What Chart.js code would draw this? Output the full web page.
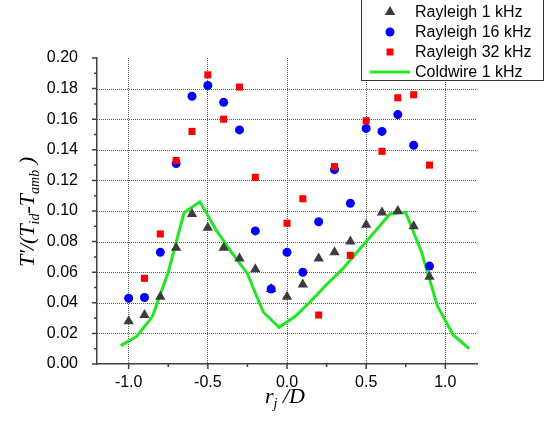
<!DOCTYPE html>
<html>
<head>
<meta charset="utf-8">
<script src="https://cdn.jsdelivr.net/npm/chart.js@4/dist/chart.umd.min.js"></script>
<style>
  html, body { margin: 0; padding: 0; background: #fff; }
  #wrap { width: 544px; height: 427px; }
</style>
</head>
<body>
<div id="wrap"><canvas id="chart" width="544" height="427"></canvas></div>
<script>
// radial positions r_j/D of the Rayleigh measurements
const xPos = [-1.0, -0.9, -0.8, -0.7, -0.6, -0.5, -0.4, -0.3, -0.2, -0.1,
              0.0, 0.1, 0.2, 0.3, 0.4, 0.5, 0.6, 0.7, 0.8, 0.9];
const ray1 = [0.028, 0.032, 0.044, 0.076, 0.098, 0.089, 0.076, 0.069, 0.062, 0.049,
              0.044, 0.052, 0.069, 0.073, 0.080, 0.091, 0.099, 0.100, 0.090, 0.057];
const ray16 = [0.043, 0.0435, 0.073, 0.131, 0.175, 0.182, 0.171, 0.153, 0.087, 0.049,
               0.073, 0.060, 0.093, 0.127, 0.105, 0.154, 0.152, 0.163, 0.143, 0.064];
const ray32 = [null, 0.056, 0.085, 0.133, 0.152, 0.189, 0.160, 0.181, 0.122, null,
               0.092, 0.108, 0.032, 0.129, 0.071, 0.159, 0.139, 0.174, 0.176, 0.130];

// coldwire profile
const cwX = [-1.05, -0.95, -0.85, -0.75, -0.65, -0.55, -0.45, -0.35, -0.25, -0.15, -0.05,
             0.05, 0.15, 0.25, 0.35, 0.45, 0.55, 0.65, 0.75, 0.85, 0.95, 1.05, 1.15];
const cwY = [0.012, 0.018, 0.031, 0.060, 0.099, 0.106, 0.088, 0.073, 0.059, 0.034, 0.024,
             0.031, 0.041, 0.052, 0.062, 0.074, 0.086, 0.098, 0.099, 0.073, 0.038, 0.019, 0.010];

const xMajor = [-1.0, -0.5, 0.0, 0.5, 1.0];
const xMinor = [-0.75, -0.25, 0.25, 0.75];
const yMajor = [0.00, 0.02, 0.04, 0.06, 0.08, 0.10, 0.12, 0.14, 0.16, 0.18, 0.20];
const yMinor = [0.01, 0.03, 0.05, 0.07, 0.09, 0.11, 0.13, 0.15, 0.17, 0.19];

const legendLabels = ['Rayleigh 1 kHz', 'Rayleigh 16 kHz', 'Rayleigh 32 kHz', 'Coldwire 1 kHz'];

const C_TRI = '#3c3c3c';
const C_CIRC = '#0000ff';
const C_SQ = '#ff0000';
const C_LINE = '#22e622';
const AXIS = '#404040';
const GRID = '#5a5a5a';

const pts = (xs, ys) => xs.map((x, i) => ({ x, y: ys[i] })).filter(p => p.y !== null);

// --- marker helpers (legend) ---
function drawMarker(ctx, kind, x, y) {
    ctx.beginPath();
    if (kind === 'tri') {
        const r = 6;
        ctx.moveTo(x, y - r);
        ctx.lineTo(x + r * 0.866, y + r * 0.5);
        ctx.lineTo(x - r * 0.866, y + r * 0.5);
        ctx.closePath();
        ctx.fillStyle = C_TRI;
        ctx.fill();
    } else if (kind === 'circ') {
        ctx.arc(x, y, 4.5, 0, Math.PI * 2);
        ctx.fillStyle = C_CIRC;
        ctx.fill();
    } else if (kind === 'sq') {
        ctx.fillStyle = C_SQ;
        ctx.fillRect(x - 3.5, y - 3.5, 7, 7);
    } else {
        ctx.strokeStyle = C_LINE;
        ctx.lineWidth = 3;
        ctx.moveTo(x - 20, y);
        ctx.lineTo(x + 20, y);
        ctx.stroke();
    }
}

function drawRich(ctx, parts, x, y) {
    // parts: [text, font, dy]
    let w = 0;
    parts.forEach(p => { ctx.font = p[1]; w += ctx.measureText(p[0]).width; });
    let cx = x - w / 2;
    parts.forEach(p => {
        ctx.font = p[1];
        ctx.fillText(p[0], cx, y + p[2]);
        cx += ctx.measureText(p[0]).width;
    });
}

const extras = {
    id: 'extras',
    beforeDatasetsDraw(chart) {
        // dotted horizontal grid at the major y ticks (between the bounds)
        const ctx = chart.ctx;
        const ys = chart.scales.y;
        const area = chart.chartArea;
        ctx.save();
        ctx.strokeStyle = GRID;
        ctx.lineWidth = 1;
        ctx.setLineDash([1, 1]);
        yMajor.slice(1, -1).forEach(v => {
            const p = Math.round(ys.getPixelForValue(v)) + 0.5;
            ctx.beginPath();
            ctx.moveTo(area.left, p);
            ctx.lineTo(area.right, p);
            ctx.stroke();
        });
        ctx.restore();
    },
    afterDraw(chart) {
        const ctx = chart.ctx;
        const xs = chart.scales.x, ys = chart.scales.y;
        const area = chart.chartArea;
        ctx.save();
        // tick marks (outward)
        ctx.strokeStyle = AXIS;
        ctx.lineWidth = 1.5;
        ctx.beginPath();
        xMajor.forEach(v => { const p = xs.getPixelForValue(v); ctx.moveTo(p, area.bottom); ctx.lineTo(p, area.bottom + 5); });
        xMinor.forEach(v => { const p = xs.getPixelForValue(v); ctx.moveTo(p, area.bottom); ctx.lineTo(p, area.bottom + 3); });
        yMajor.forEach(v => { const p = ys.getPixelForValue(v); ctx.moveTo(area.left, p); ctx.lineTo(area.left - 5, p); });
        yMinor.forEach(v => { const p = ys.getPixelForValue(v); ctx.moveTo(area.left, p); ctx.lineTo(area.left - 3, p); });
        ctx.stroke();

        // axis titles
        ctx.fillStyle = '#000';
        ctx.textBaseline = 'alphabetic';
        ctx.textAlign = 'left';
        const big = 'italic 22px "Liberation Serif", "DejaVu Serif", serif';
        const small = 'italic 14px "Liberation Serif", "DejaVu Serif", serif';
        drawRich(ctx, [['r', big, 0], ['j', small, 5], [' /D', big, 0]], 285, 403);

        ctx.save();
        ctx.translate(34, 212);
        ctx.rotate(-Math.PI / 2);
        drawRich(ctx, [["T'/(T", big, 0], ['id', small, 5], ['-T', big, 0], ['amb', small, 5], [' )', big, 0]], 0, 0);
        ctx.restore();

        // legend box
        ctx.fillStyle = '#fff';
        ctx.fillRect(361.5, -1, 182, 81.5);
        ctx.strokeStyle = '#333';
        ctx.lineWidth = 1;
        ctx.strokeRect(361.5, -1, 182, 81.5);
        const kinds = ['tri', 'circ', 'sq', 'line'];
        ctx.font = '16px "Liberation Sans", Arial, sans-serif';
        ctx.textBaseline = 'middle';
        legendLabels.forEach((lab, i) => {
            const cy = 12 + i * 20;
            drawMarker(ctx, kinds[i], 390, cy);
            ctx.fillStyle = '#000';
            ctx.fillText(lab, 415, cy + 1);
        });
        ctx.restore();
    }
};

new Chart(document.getElementById('chart'), {
    type: 'scatter',
    data: {
        datasets: [
            {
                label: legendLabels[2],
                data: pts(xPos, ray32),
                pointStyle: 'rect',
                pointRadius: 5,
                backgroundColor: C_SQ,
                borderWidth: 0,
                order: 1,
            },
            {
                label: legendLabels[1],
                data: pts(xPos, ray16),
                pointStyle: 'circle',
                pointRadius: 4.5,
                backgroundColor: C_CIRC,
                borderWidth: 0,
                order: 2,
            },
            {
                label: legendLabels[0],
                data: pts(xPos, ray1),
                pointStyle: 'triangle',
                pointRadius: 6,
                backgroundColor: C_TRI,
                borderWidth: 0,
                order: 3,
            },
            {
                label: legendLabels[3],
                data: pts(cwX, cwY),
                showLine: true,
                borderColor: C_LINE,
                borderWidth: 3,
                pointRadius: 0,
                tension: 0,
                order: 4,
            },
        ],
    },
    options: {
        responsive: false,
        animation: false,
        layout: { padding: { top: 58, right: 67, left: 0, bottom: 0 } },
        plugins: { legend: { display: false }, tooltip: { enabled: false } },
        scales: {
            x: {
                type: 'linear',
                min: -1.2,
                max: 1.2,
                afterBuildTicks: axis => { axis.ticks = xMajor.map(v => ({ value: v })); },
                afterFit: axis => { axis.height = 63; },
                ticks: {
                    padding: 9,
                    color: '#000',
                    font: { family: '"Liberation Sans", Arial, sans-serif', size: 16 },
                    callback: v => v.toFixed(1),
                },
                grid: {
                    drawTicks: false,
                    color: GRID,
                    lineWidth: 1,
                },
                border: { display: true, color: AXIS, width: 1.5, dash: [1, 1] },
            },
            y: {
                type: 'linear',
                min: 0,
                max: 0.2,
                afterBuildTicks: axis => { axis.ticks = yMajor.map(v => ({ value: v })); },
                afterFit: axis => { axis.width = 97; },
                ticks: {
                    padding: 11,
                    color: '#000',
                    font: { family: '"Liberation Sans", Arial, sans-serif', size: 16 },
                    callback: v => v.toFixed(2),
                },
                grid: { display: false },
                border: { display: true, color: AXIS, width: 1.5 },
            },
        },
    },
    plugins: [extras],
});
</script>
</body>
</html>
